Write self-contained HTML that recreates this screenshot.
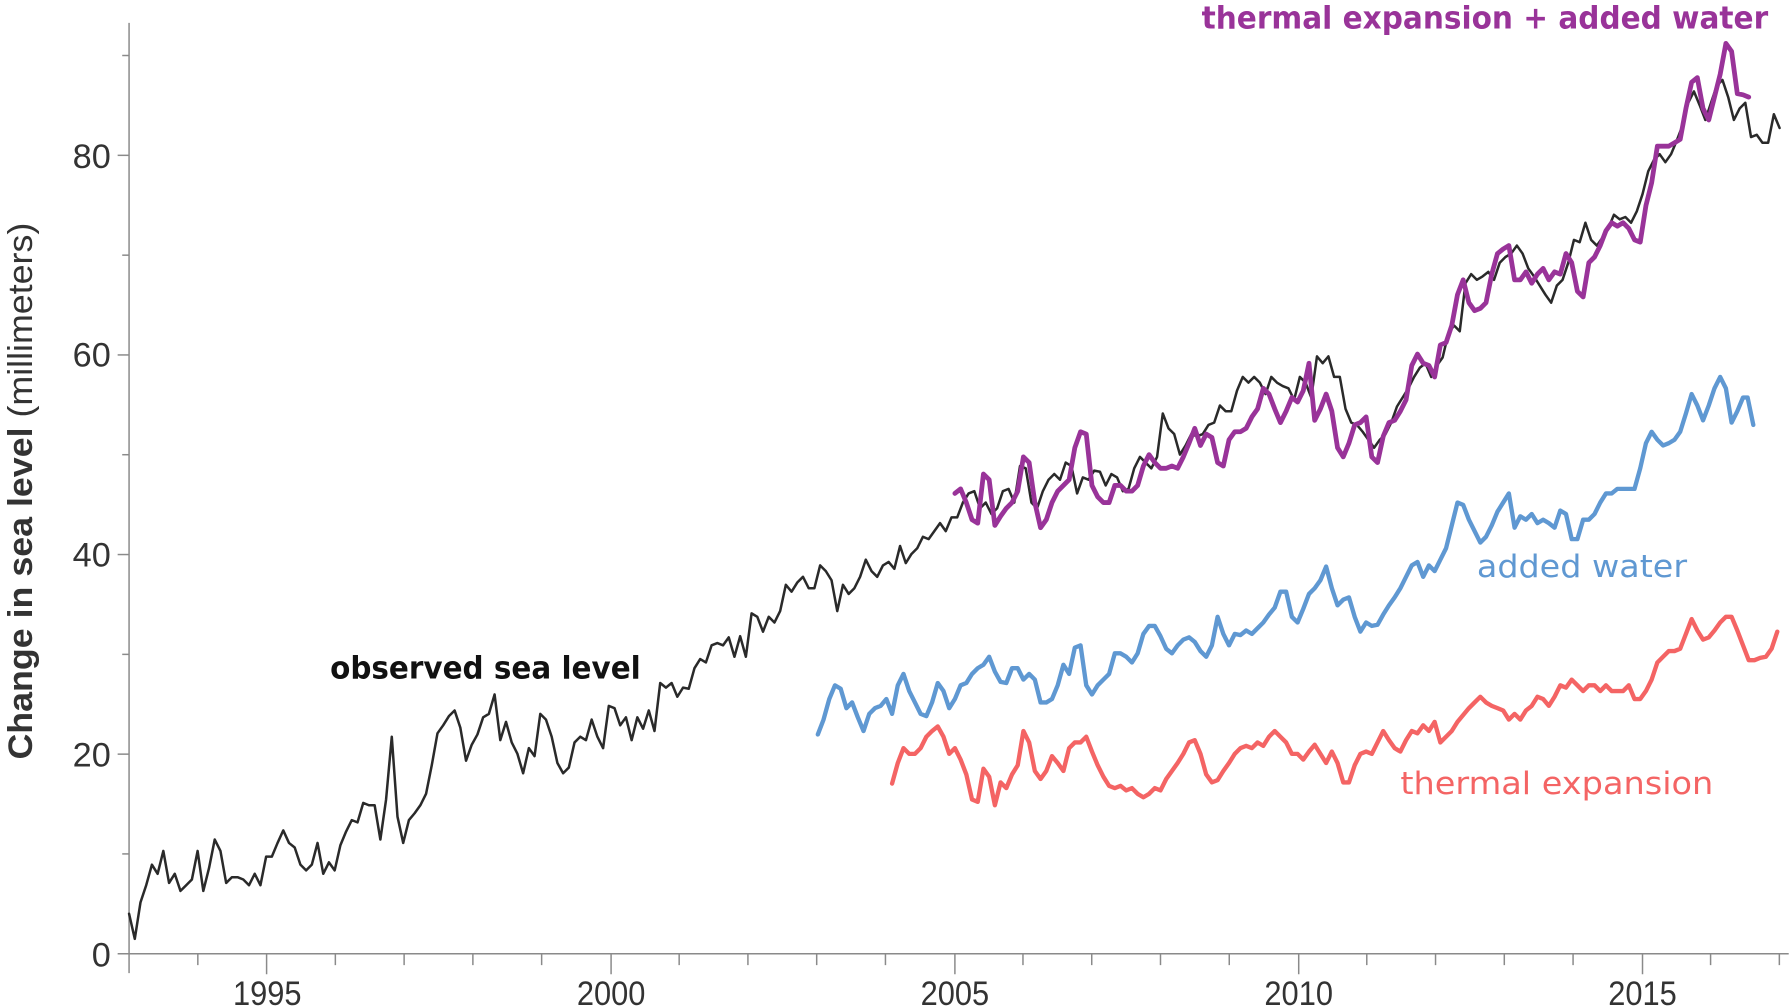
<!DOCTYPE html>
<html><head><meta charset="utf-8"><style>html,body{margin:0;padding:0;background:#fff;}svg{display:block}</style></head>
<body>
<svg width="1791" height="1008" viewBox="0 0 1568 882.5" preserveAspectRatio="none" xmlns="http://www.w3.org/2000/svg">
<g stroke="#8a8a8a" stroke-width="1.3" fill="none">
<line x1="113" y1="20" x2="113" y2="852"/>
<line x1="103" y1="835" x2="1566" y2="835"/>
<line x1="103" y1="660.25" x2="113" y2="660.25"/>
<line x1="103" y1="485.5" x2="113" y2="485.5"/>
<line x1="103" y1="310.75" x2="113" y2="310.75"/>
<line x1="103" y1="136" x2="113" y2="136"/>
<line x1="107" y1="747.6" x2="113" y2="747.6"/>
<line x1="107" y1="572.9" x2="113" y2="572.9"/>
<line x1="107" y1="398.1" x2="113" y2="398.1"/>
<line x1="107" y1="223.4" x2="113" y2="223.4"/>
<line x1="107" y1="48.6" x2="113" y2="48.6"/>
<path d="M173.2 835v10M293.6 835v10M353.8 835v10M414 835v10M474.2 835v10M594.6 835v10M654.8 835v10M715 835v10M775.2 835v10M895.6 835v10M955.8 835v10M1016 835v10M1076.2 835v10M1196.6 835v10M1256.8 835v10M1317 835v10M1377.2 835v10M1497.6 835v10M1557.8 835v10"/>
<path d="M233.4 835v18M535 835v18M836 835v18M1137 835v18M1438 835v18"/>
</g>
<g font-family="'Liberation Sans Narrow','Liberation Sans',sans-serif" font-size="30" fill="#333">
<text x="97" y="846" text-anchor="end">0</text>
<text x="97" y="671" text-anchor="end">20</text>
<text x="97" y="496" text-anchor="end">40</text>
<text x="97" y="321" text-anchor="end">60</text>
<text x="97" y="147" text-anchor="end">80</text>
<text x="234" y="880" text-anchor="middle" textLength="60" lengthAdjust="spacingAndGlyphs">1995</text>
<text x="535" y="880" text-anchor="middle" textLength="60" lengthAdjust="spacingAndGlyphs">2000</text>
<text x="836" y="880" text-anchor="middle" textLength="60" lengthAdjust="spacingAndGlyphs">2005</text>
<text x="1137" y="880" text-anchor="middle" textLength="60" lengthAdjust="spacingAndGlyphs">2010</text>
<text x="1438" y="880" text-anchor="middle" textLength="60" lengthAdjust="spacingAndGlyphs">2015</text>
</g>
<text transform="translate(28,430) rotate(-90)" text-anchor="middle" font-family="'Liberation Sans Narrow','Liberation Sans',sans-serif" font-size="30" fill="#333" textLength="470" lengthAdjust="spacingAndGlyphs"><tspan font-weight="bold">Change in sea level </tspan><tspan>(millimeters)</tspan></text>
<g fill="none" stroke-linejoin="round" stroke-linecap="round">
<polyline stroke="#2a2a2a" stroke-width="2.2" points="113,800 118,822 123,790 128,775 133,757 138,765 143,745 148,773 153,765 158,780 163,775 168,770 173,745 178,780 183,760 188,735 193,745 198,773 203,768 208,768 213,770 218,775 223,765 228,775 233,750 238,750 243,738 248,727 253,738 258,742 263,757 268,762 273,757 278,738 283,765 288,755 293,762 298,740 303,728 308,718 313,720 318,703 323,705 328,705 333,735 338,700 343,645 348,715 353,738 358,718 363,712 368,705 373,695 378,670 383,642 388,635 393,627 398,622 403,637 408,666 413,652 418,643 423,628 428,625 433,608 438,648 443,632 448,650 453,660 458,677 463,655 468,662 473,625 478,630 483,645 488,668 493,677 498,672 503,650 508,645 513,648 518,630 523,645 528,655 533,618 538,620 543,635 548,628 553,648 558,628 563,638 568,622 573,640 578,598 583,602 588,598 593,610 598,602 603,603 608,585 613,577 618,580 623,565 628,563 633,565 638,558 643,575 648,557 653,575 658,537 663,540 668,553 673,540 678,545 683,535 688,512 693,518 698,510 703,505 708,515 713,515 718,495 723,500 728,508 733,535 738,512 743,520 748,515 753,505 758,490 763,500 768,505 773,495 778,492 783,498 788,478 793,493 798,485 803,480 808,470 813,472 818,465 823,458 828,465 833,453 838,453 843,440 848,432 853,430 858,445 863,440 868,450 873,445 878,430 883,428 888,440 893,408 898,410 903,440 908,445 913,430 918,420 923,415 928,420 933,405 938,408 943,432 948,418 953,420 958,412 963,413 968,425 973,415 978,418 983,430 988,428 993,410 998,400 1003,405 1008,410 1013,400 1018,362 1023,375 1028,380 1033,398 1038,390 1043,380 1048,382 1053,380 1058,372 1063,370 1068,355 1073,360 1078,360 1083,342 1088,330 1093,335 1098,330 1103,335 1108,345 1113,330 1118,335 1123,338 1128,340 1133,350 1138,330 1143,335 1148,348 1153,312 1158,318 1163,312 1168,330 1173,330 1178,358 1183,370 1188,372 1193,378 1198,385 1203,392 1208,385 1213,380 1218,370 1223,356 1228,348 1233,340 1238,330 1243,322 1248,318 1253,330 1258,320 1263,313 1268,292 1273,285 1278,290 1283,248 1288,240 1293,245 1298,242 1303,238 1308,245 1313,230 1318,225 1323,222 1328,215 1333,222 1338,235 1343,242 1348,250 1353,258 1358,265 1363,250 1368,245 1373,230 1378,210 1383,212 1388,195 1393,210 1398,215 1403,208 1408,200 1413,188 1418,192 1423,190 1428,195 1433,185 1438,170 1443,150 1448,140 1453,135 1458,142 1463,135 1468,123 1473,110 1478,90 1483,80 1488,92 1493,105 1498,90 1503,75 1508,70 1513,85 1518,105 1523,95 1528,90 1533,120 1538,118 1543,125 1548,125 1553,100 1558,112"/>
<polyline stroke="#f46464" stroke-width="3.8" points="781,686 786,668 791,655 796,660 801,660 806,655 811,645 816,640 821,636 826,645 831,660 836,655 841,665 846,678 851,700 856,702 861,673 866,680 871,705 876,685 881,690 886,678 891,670 896,640 901,650 906,675 911,682 916,675 921,662 926,668 931,675 936,655 941,650 946,650 951,645 956,658 961,670 966,680 971,688 976,690 981,688 986,692 991,690 996,695 1001,698 1006,695 1011,690 1016,692 1021,682 1026,675 1031,668 1036,660 1041,650 1046,648 1051,660 1056,678 1061,685 1066,683 1071,675 1076,668 1081,660 1086,655 1091,653 1096,655 1101,650 1106,653 1111,645 1116,640 1121,645 1126,650 1131,660 1136,660 1141,665 1146,658 1151,652 1156,660 1161,668 1166,658 1171,668 1176,685 1181,685 1186,670 1191,660 1196,658 1201,660 1206,650 1211,640 1216,648 1221,655 1226,658 1231,648 1236,640 1241,642 1246,635 1251,640 1256,632 1261,650 1266,645 1271,640 1276,632 1281,626 1286,620 1291,615 1296,610 1301,615 1306,618 1311,620 1316,622 1321,630 1326,625 1331,630 1336,622 1341,618 1346,610 1351,612 1356,618 1361,610 1366,600 1371,602 1376,595 1381,600 1386,605 1391,600 1396,600 1401,605 1406,600 1411,605 1416,605 1421,605 1426,600 1431,612 1436,612 1441,605 1446,595 1451,580 1456,575 1461,570 1466,570 1471,568 1476,555 1481,542 1486,552 1491,560 1496,558 1501,552 1506,545 1511,540 1516,540 1521,552 1526,565 1531,578 1536,578 1541,576 1546,575 1551,568 1556,553"/>
<polyline stroke="#5f98d2" stroke-width="3.8" points="716,643 721,630 726,612 731,600 736,603 741,620 746,615 751,628 756,640 761,625 766,620 771,618 776,612 781,625 786,600 791,590 796,605 801,615 806,625 811,627 816,615 821,598 826,605 831,620 836,612 841,600 846,598 851,590 856,585 861,582 866,575 871,588 876,597 881,598 886,585 891,585 896,595 901,590 906,595 911,615 916,615 921,612 926,600 931,582 936,590 941,567 946,565 951,600 956,608 961,600 966,595 971,590 976,572 981,572 986,575 991,580 996,572 1001,555 1006,548 1011,548 1016,557 1021,568 1026,572 1031,565 1036,560 1041,558 1046,562 1051,570 1056,575 1061,565 1066,540 1071,555 1076,565 1081,555 1086,556 1091,552 1096,555 1101,550 1106,545 1111,538 1116,532 1121,518 1126,518 1131,540 1136,545 1141,533 1146,520 1151,515 1156,508 1161,496 1166,515 1171,530 1176,525 1181,523 1186,540 1191,553 1196,545 1201,548 1206,547 1211,538 1216,530 1221,523 1226,515 1231,505 1236,495 1241,492 1246,505 1251,495 1256,500 1261,490 1266,480 1271,460 1276,440 1281,442 1286,455 1291,465 1296,475 1301,470 1306,460 1311,448 1316,440 1321,432 1326,462 1331,452 1336,455 1341,450 1346,458 1351,455 1356,458 1361,462 1366,447 1371,450 1376,472 1381,472 1386,455 1391,455 1396,450 1401,440 1406,432 1411,432 1416,428 1421,428 1426,428 1431,428 1436,410 1441,388 1446,378 1451,385 1456,390 1461,388 1466,385 1471,378 1476,362 1481,345 1486,355 1491,368 1496,355 1501,340 1506,330 1511,340 1516,370 1521,360 1526,348 1530,348 1535,372"/>
<polyline stroke="#993399" stroke-width="4.2" points="836,432 841,428 846,440 851,455 856,458 861,415 866,420 871,460 876,452 881,445 886,440 891,430 896,400 901,405 906,440 911,462 916,455 921,440 926,430 931,425 936,420 941,392 946,378 951,380 956,425 961,435 966,440 971,440 976,425 981,425 986,430 991,430 996,425 1001,408 1006,398 1011,405 1016,410 1021,410 1026,408 1031,410 1036,400 1041,388 1046,375 1051,390 1056,380 1061,383 1066,405 1071,408 1076,385 1081,378 1086,378 1091,375 1096,365 1101,358 1106,340 1111,345 1116,358 1121,370 1126,360 1131,348 1136,352 1141,342 1146,318 1151,368 1156,358 1161,345 1166,360 1171,392 1176,400 1181,388 1186,372 1191,370 1196,365 1201,400 1206,405 1211,382 1216,370 1221,368 1226,360 1231,350 1236,320 1241,310 1246,318 1251,320 1256,330 1261,302 1266,300 1271,285 1276,258 1281,245 1286,265 1291,272 1296,270 1301,265 1306,240 1311,222 1316,218 1321,215 1326,245 1331,245 1336,238 1341,248 1346,240 1351,235 1356,245 1361,238 1366,240 1371,222 1376,230 1381,255 1386,260 1391,230 1396,225 1401,215 1406,202 1411,195 1416,198 1421,195 1426,200 1431,210 1436,212 1441,180 1446,160 1451,128 1456,128 1461,128 1466,125 1471,122 1476,95 1481,72 1486,68 1491,95 1496,105 1501,85 1506,65 1511,38 1516,45 1521,82 1526,83 1531,85"/>
</g>
<g font-family="'DejaVu Sans','Liberation Sans',sans-serif" font-weight="bold" font-size="27">
<text x="289" y="594" fill="#111" textLength="272" lengthAdjust="spacingAndGlyphs">observed sea level</text>
<text x="1052" y="25" fill="#993399" textLength="496" lengthAdjust="spacingAndGlyphs">thermal expansion + added water</text>
<text x="1293" y="505" fill="#5f98d2" textLength="184" lengthAdjust="spacingAndGlyphs" font-weight="normal">added water</text>
<text x="1226" y="695" fill="#f46464" textLength="274" lengthAdjust="spacingAndGlyphs" font-weight="normal">thermal expansion</text>
</g>
</svg>
</body></html>
